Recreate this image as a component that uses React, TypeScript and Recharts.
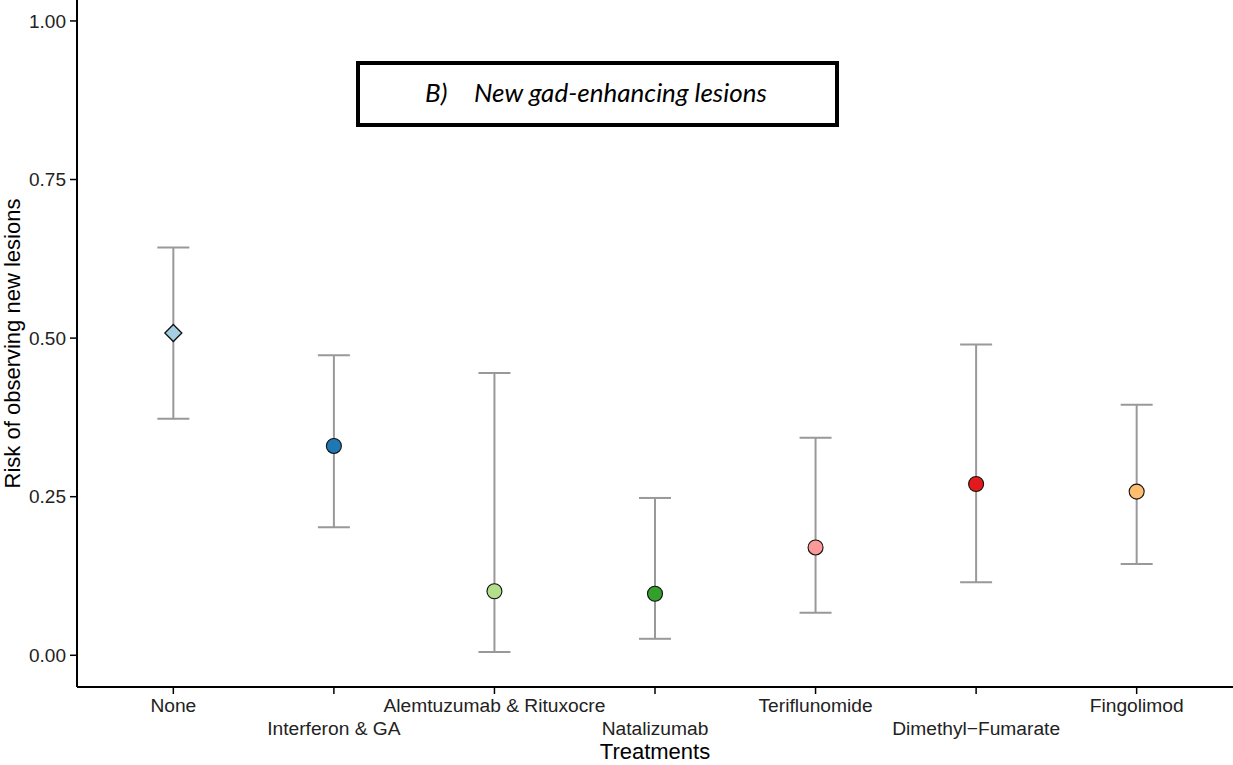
import React from "react";
import {
  ScatterChart,
  Scatter,
  XAxis,
  YAxis,
  ErrorBar,
} from "recharts";

const treatments = [
  "None",
  "Interferon & GA",
  "Alemtuzumab & Rituxocre",
  "Natalizumab",
  "Teriflunomide",
  "Dimethyl\u2212Fumarate",
  "Fingolimod",
];
const risk = [0.508, 0.33, 0.101, 0.097, 0.17, 0.27, 0.258];
const lower = [0.373, 0.202, 0.005, 0.026, 0.067, 0.115, 0.144];
const upper = [0.643, 0.473, 0.445, 0.248, 0.343, 0.49, 0.395];
const colors = [
  "#a6cee3",
  "#1f78b4",
  "#b2df8a",
  "#33a02c",
  "#fb9a99",
  "#e31a1c",
  "#fdbf6f",
];
const yTicks = [0, 0.25, 0.5, 0.75, 1];

const data = treatments.map((name, i) => ({
  name,
  pos: i + 1,
  risk: risk[i],
  err: [risk[i] - lower[i], upper[i] - risk[i]],
  color: colors[i],
}));

const FONT = "'Liberation Sans', Arial, sans-serif";

const PointShape = (props: any) => {
  const { cx, cy, payload } = props;
  if (payload.name === "None") {
    const s = 8.5;
    return (
      <path
        d={`M${cx},${cy - s} L${cx + s},${cy} L${cx},${cy + s} L${cx - s},${cy} Z`}
        fill={payload.color}
        stroke="#111"
        strokeWidth={1.3}
      />
    );
  }
  return (
    <circle
      cx={cx}
      cy={cy}
      r={7.5}
      fill={payload.color}
      stroke="#111"
      strokeWidth={1.1}
    />
  );
};

const TreatmentTick = (props: any) => {
  const { x, y, payload } = props;
  const idx = payload.value - 1;
  const label = treatments[idx] ?? "";
  return (
    <text
      x={x}
      y={y + (idx % 2 === 0 ? 18 : 41)}
      textAnchor="middle"
      fontFamily={FONT}
      fontSize={19.2}
      fill="#222"
    >
      {label}
    </text>
  );
};

export default function App() {
  return (
    <div
      style={{
        position: "absolute",
        left: 0,
        top: 0,
        width: 1233,
        height: 765,
        background: "#fff",
      }}
    >
      <ScatterChart
        width={1233}
        height={765}
        margin={{ top: 0, right: 0, bottom: 0, left: 0 }}
      >
        <XAxis
          type="number"
          dataKey="pos"
          domain={[0.4, 7.6]}
          ticks={[1, 2, 3, 4, 5, 6, 7]}
          allowDataOverflow
          height={78}
          tickSize={7}
          tickMargin={0}
          axisLine={{ stroke: "#000", strokeWidth: 2 }}
          tickLine={{ stroke: "#000", strokeWidth: 1.5 }}
          tick={<TreatmentTick />}
          label={{
            value: "Treatments",
            position: "insideBottom",
            offset: 6,
            fontFamily: FONT,
            fontSize: 22,
            fill: "#000",
          }}
        />
        <YAxis
          type="number"
          dataKey="risk"
          domain={[-0.05, 1.033]}
          ticks={yTicks}
          allowDataOverflow
          width={77}
          tickSize={7}
          tickMargin={4}
          tickFormatter={(v: number) => v.toFixed(2)}
          axisLine={{ stroke: "#000", strokeWidth: 2 }}
          tickLine={{ stroke: "#000", strokeWidth: 1.5 }}
          tick={{ fontFamily: FONT, fontSize: 19, fill: "#222" }}
          label={{
            value: "Risk of observing new lesions",
            angle: -90,
            position: "insideLeft",
            offset: 12,
            style: { textAnchor: "middle" },
            fontFamily: FONT,
            fontSize: 22,
            fill: "#000",
          }}
        />
        <Scatter
          data={data}
          dataKey="risk"
          shape={<PointShape />}
          isAnimationActive={false}
        >
          <ErrorBar
            dataKey="err"
            direction="y"
            width={16}
            stroke="#999"
            strokeWidth={2}
          />
        </Scatter>
      </ScatterChart>
      <div
        style={{
          position: "absolute",
          left: 356,
          top: 61,
          width: 483,
          height: 66,
          boxSizing: "border-box",
          border: "4px solid #000",
          fontFamily: "Lato, 'Open Sans', sans-serif",
          fontStyle: "italic",
          fontSize: 26,
          lineHeight: "30px",
          color: "#000",
        }}
      >
        <span style={{ position: "absolute", left: 65, top: 12 }}>B)</span>
        <span style={{ position: "absolute", left: 114, top: 12 }}>
          New gad-enhancing lesions
        </span>
      </div>
    </div>
  );
}
